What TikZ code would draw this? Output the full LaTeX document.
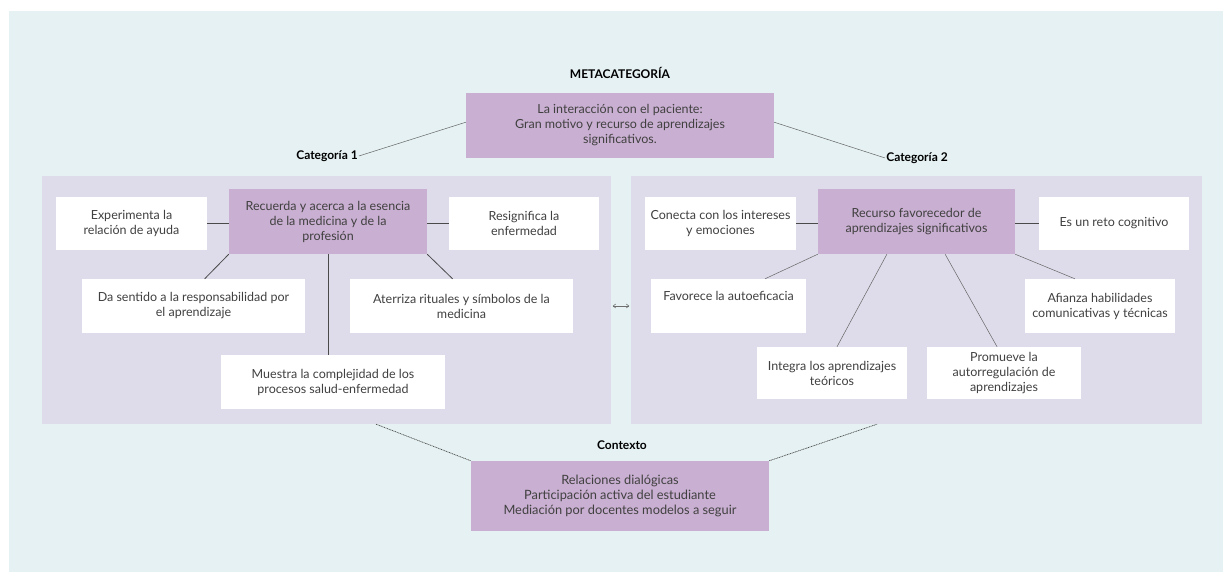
\documentclass[tikz,border=0pt]{standalone}
\usepackage{fontspec}
\setmainfont{Lato}
\usetikzlibrary{calc,arrows.meta}
\definecolor{bgc}{HTML}{E5F1F2}
\definecolor{panelc}{HTML}{DEDCEB}
\definecolor{purp}{HTML}{C9AFD1}
\definecolor{txt}{HTML}{404040}
\definecolor{linec}{HTML}{4A4A4A}
\begin{document}
\begin{tikzpicture}[x=1pt,y=-1pt,
  box/.style={rectangle, inner sep=2pt, align=center, text=txt,
     font=\fontsize{12.5}{15}\selectfont},
  wbox/.style={box, fill=white},
  pbox/.style={box, fill=purp},
  panel/.style={rectangle, fill=panelc, inner sep=0pt},
  head/.style={font=\fontsize{12}{13}\selectfont\bfseries, text=black, inner sep=1pt},
  conn/.style={draw=linec, line width=0.8pt},
  thin/.style={draw=linec!85, line width=0.5pt},
  dotl/.style={draw=linec, line width=0.7pt, dash pattern=on 1pt off 0.7pt}]
\useasboundingbox (0,0) rectangle (1223,572);
\fill[white] (0,0) rectangle (1223,572);
\fill[bgc] (9,11) rectangle (1223,572);

% panels
\node[panel, minimum width=569pt, minimum height=248pt] (p1) at (326.5,300) {};
\node[panel, minimum width=571pt, minimum height=248pt] (p2) at (916.5,300) {};

% top
\node[head] (metal) at (620,73) {METACATEGORÍA};
\node[pbox, minimum width=308pt, minimum height=65pt] (meta) at (620,125.5)
  {La interacción con el paciente:\\Gran motivo y recurso de aprendizajes\\significativos.};
\node[head] (cat1) at (327,156) {Categoría 1};
\node[head] (cat2) at (917,158) {Categoría 2};
\draw[thin] ($(meta.north west)!0.45!(meta.south west)$) -- (cat1.east);
\draw[thin] ($(meta.north east)!0.45!(meta.south east)$) -- (cat2.west);

% left panel
\node[wbox, minimum width=151pt, minimum height=53pt] (exp) at (131.5,223.5) {Experimenta la\\relación de ayuda};
\node[pbox, minimum width=198pt, minimum height=65pt] (c1) at (328,221.5) {Recuerda y acerca a la esencia\\de la medicina y de la\\profesión};
\node[wbox, minimum width=150pt, minimum height=53pt] (res) at (524,223.5) {Resignifica la\\enfermedad};
\node[wbox, minimum width=223pt, minimum height=54pt] (das) at (193.5,306) {Da sentido a la responsabilidad por\\el aprendizaje};
\node[wbox, minimum width=223pt, minimum height=54pt] (ate) at (461.5,306) {Aterriza rituales y símbolos de la\\medicina};
\node[wbox, minimum width=224pt, minimum height=54pt] (mue) at (333,382) {Muestra la complejidad de los\\procesos salud-enfermedad};
\draw[conn] (exp.east) -- (exp.east -| c1.west);
\draw[conn] (res.west) -- (res.west -| c1.east);
\draw[conn] (c1.south west) -- ($(das.north west)!0.55!(das.north east)$);
\draw[conn] (c1.south east) -- ($(ate.north west)!0.46!(ate.north east)$);
\draw[conn] (c1.south) -- (c1.south |- mue.north);

% right panel
\node[wbox, minimum width=151pt, minimum height=53pt] (con) at (720.5,223.5) {Conecta con los intereses\\y emociones};
\node[pbox, minimum width=197pt, minimum height=65pt] (c2) at (916.5,221.5) {Recurso favorecedor de\\aprendizajes significativos};
\node[wbox, minimum width=150pt, minimum height=53pt] (ret) at (1114,223.5) {Es un reto cognitivo};
\node[wbox, minimum width=155pt, minimum height=54pt] (fav) at (728.5,306) {Favorece la autoeficacia\\[6pt]};
\node[wbox, minimum width=150pt, minimum height=54pt] (afi) at (1100,306) {Afianza habilidades\\comunicativas y técnicas};
\node[wbox, minimum width=150pt, minimum height=52pt] (int) at (832,373) {Integra los aprendizajes\\teóricos};
\node[wbox, minimum width=154pt, minimum height=52pt] (pro) at (1004,373) {Promueve la\\autorregulación de\\aprendizajes};
\draw[conn] (con.east) -- (con.east -| c2.west);
\draw[conn] (ret.west) -- (ret.west -| c2.east);
\draw[thin] (c2.south west) -- ($(fav.north west)!0.735!(fav.north east)$);
\draw[thin] ($(c2.south west)!0.35!(c2.south east)$) -- ($(int.north west)!0.533!(int.north east)$);
\draw[thin] ($(c2.south west)!0.645!(c2.south east)$) -- ($(pro.north west)!0.455!(pro.north east)$);
\draw[thin] (c2.south east) -- ($(afi.north west)!0.333!(afi.north east)$);

% double arrow between panels
\draw[draw=linec!80, line width=0.6pt, {Straight Barb[length=2.5pt,width=4pt]}-{Straight Barb[length=2.5pt,width=4pt]}, shorten <=1.5pt, shorten >=1.5pt]
  ($(p1.east)+(0,6)$) -- ($(p2.west)+(0,6)$);

% bottom
\node[head] (ctxl) at (622,445) {Contexto};
\node[pbox, minimum width=298pt, minimum height=70pt, font=\fontsize{12.8}{15}\selectfont] (ctx) at (620,496)
  {Relaciones dialógicas\\Participación activa del estudiante\\Mediación por docentes modelos a seguir};
\draw[dotl] ($(p1.south west)!0.587!(p1.south east)$) -- (ctx.north west);
\draw[dotl] (ctx.north east) -- ($(p2.south west)!0.431!(p2.south east)$);
\end{tikzpicture}
\end{document}
